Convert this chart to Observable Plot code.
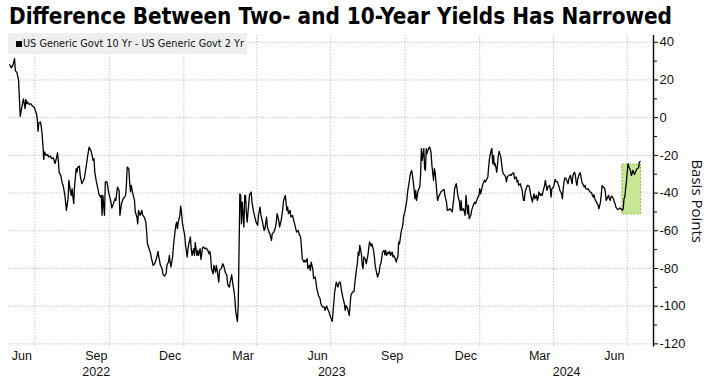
<!DOCTYPE html>
<html>
<head>
<meta charset="utf-8">
<script src="https://cdn.jsdelivr.net/npm/d3@7"></script>
<script src="https://cdn.jsdelivr.net/npm/@observablehq/plot@0.6"></script>
<style>
  html, body { margin: 0; padding: 0; background: #fff; }
  body { width: 708px; height: 379px; overflow: hidden; position: relative; }
  #title { position: absolute; left: 9px; top: 0; height: 33px; line-height: 33px; white-space: nowrap;
           font-family: "DejaVu Sans", sans-serif; font-weight: bold; font-size: 23px; color: #000;
           transform-origin: 0 50%; }
  #chart { position: absolute; left: 0; top: 33px; }
  #legend { position: absolute; left: 8px; top: 33px; width: 239px; height: 21px; background: #efefef; }
  #legend .sw { position: absolute; left: 8px; top: 8px; width: 6px; height: 6px; background: #000; }
  #legend .lt { position: absolute; left: 15px; top: 3px; line-height: 15px; white-space: nowrap;
                font-family: "DejaVu Sans", sans-serif; font-size: 10.5px; color: #111; transform-origin: 0 50%; }
</style>
</head>
<body>
<div id="title"></div>
<div id="chart"></div>
<div id="legend"><div class="sw"></div><div class="lt"></div></div>
<script>
// ---------------- data ----------------
const titleText = "Difference Between Two- and 10-Year Yields Has Narrowed";
const seriesName = "US Generic Govt 10 Yr - US Generic Govt 2 Yr";
const yAxisLabel = "Basis Points";

// reference date for the day offsets below
const seriesStart = "2022-07-01";
// [days since seriesStart, spread in basis points]
const spreadPoints = [
  [-31,28.1],[-29,26.5],[-27,27.7],[-25,31.3],[-24,25],[-22,23.9],[-20,19.8],[-19,10],[-18,0.7],[-16,5.6],
  [-14,10],[-13,7.4],[-12,4.8],[-11,9.7],[-10,7.4],[-9,8.3],[-7,7],[-5,7.4],[-3,6.2],[-1,5.6],
  [0,4.8],[2,2.1],[3,-0.5],[4,-7.2],[5,-2.7],[7,-2.3],[8,-5],[9,-8.5],[10,-14.7],[11,-22.1],
  [12,-18.2],[14,-20],[16,-19.6],[17,-20.9],[19,-20.3],[21,-21.7],[23,-21.4],[25,-24.4],[27,-20.9],[28,-18.6],
  [29,-22.6],[30,-28.9],[32,-30.6],[34,-35],[35,-35.9],[37,-40.9],[38,-44.8],[39,-49.2],[41,-43],[42,-33.3],
  [44,-39.4],[45,-41.2],[46,-37.7],[48,-45.6],[49,-36.8],[51,-27.1],[52,-28.9],[53,-26.2],[55,-25.7],[56,-30.6],
  [58,-35],[60,-33.3],[61,-32.4],[63,-27.1],[65,-20.9],[67,-15.6],[69,-17.3],[70,-18.6],[72,-22.6],[73,-21.7],
  [74,-28.9],[76,-34.1],[78,-38],[79,-40.4],[81,-42.1],[82,-41.2],[83,-51.8],[84,-41.2],[86,-51.8],
  [87,-34.1],[89,-34.1],[91,-39.4],[92,-41.2],[94,-44.8],[95,-47.9],[97,-45.6],[99,-43],[100,-43.9],[102,-36.8],
  [104,-38.6],[105,-51.8],[107,-45.6],[109,-43],[110,-42.5],[112,-41.2],[113,-35.9],[114,-26.2],[116,-27.1],[117,-34.1],
  [118,-39.4],[119,-35.9],[121,-40.4],[123,-43.9],[124,-50],[126,-52.7],[127,-56.3],[128,-49.2],[130,-51.8],[132,-49.2],
  [133,-51.5],[135,-52.7],[137,-55.4],[138,-60.7],[139,-66.9],[141,-69.5],[143,-72.2],[144,-74.8],[146,-78.3],[148,-77.5],
  [149,-76.2],[151,-73.1],[152,-70.9],[153,-73.9],[155,-78.3],[157,-80.1],[158,-82.8],[160,-84],[162,-82.8],[163,-78.3],
  [165,-76.6],[166,-73.1],[167,-76.6],[168,-79.2],[170,-73.9],[171,-68.6],[172,-64.2],[174,-57.1],[175,-55.4],[176,-58.9],
  [177,-55.4],[179,-51.8],[180,-46.9],[181,-50],[182,-55.4],[183,-58],[185,-62.4],[186,-67.7],[188,-73.9],[189,-69.5],
  [190,-66.9],[192,-63.3],[193,-69.5],[194,-73.1],[196,-69.5],[197,-73.1],[198,-66.3],[200,-73.1],[201,-70.4],[202,-73.1],
  [204,-69.5],[205,-75.2],[207,-69],[208,-68.6],[210,-69.5],[211,-69.2],[213,-69.9],[215,-72.2],[216,-70.9],
  [217,-73.9],[218,-80.1],[220,-82.8],[221,-78.3],[223,-81.9],[224,-78.3],[225,-81],[227,-87.2],[228,-81],[230,-80.1],
  [232,-77.5],[233,-78.3],[235,-81.9],[237,-83.7],[238,-88.6],[240,-89.9],[241,-87.2],[243,-83.3],[244,-87.2],[246,-92.5],
  [247,-97],[248,-103.1],[250,-108.1],[251,-99.6],[252,-71.3],[253,-40.4],[254,-41.2],[255,-56.3],[256,-44.8],[258,-58],
  [259,-41.2],[260,-41.2],[261,-50],[262,-55.4],[264,-45.6],[265,-40.9],[267,-39.4],[268,-44.8],[270,-50],[272,-53.6],
  [273,-55.4],[275,-57.1],[276,-51.5],[278,-47.4],[279,-51.8],[281,-55.4],[283,-59.8],[284,-58.9],[286,-52.7],[287,-58],
  [289,-60.7],[290,-61.5],[292,-65.1],[293,-61.5],[295,-60.7],[297,-58],[298,-55.4],[299,-50.9],[301,-54.5],[302,-58],
  [304,-54.5],[306,-48.3],[307,-43.9],[309,-41.2],[310,-44.8],[311,-49.2],[312,-47.4],[313,-50.9],[315,-49.2],[316,-52.7],
  [318,-51.8],[320,-55.4],[321,-57.1],[323,-60.7],[325,-59.8],[326,-61.5],[328,-63.3],[329,-68.6],[330,-74.8],[332,-76.6],
  [333,-75.7],[334,-76.6],[336,-74.8],[337,-80.1],[339,-78.3],[340,-81],[341,-76.6],[343,-80.1],[344,-85.4],[346,-84.5],
  [348,-90.7],[350,-94.3],[352,-96],[353,-98.7],[355,-100.4],[357,-100.4],[358,-102.2],[360,-99.9],[362,-102.2],[363,-103.1],
  [365,-105.8],[367,-108.1],[368,-103.1],[369,-97.8],[370,-92.5],[372,-87.2],[374,-89.9],[375,-88.1],[376,-87.2],[377,-87.2],
  [378,-90.7],[380,-95.2],[382,-98.7],[383,-102.2],[384,-99.6],[386,-101.3],[388,-104.9],[389,-99.6],[390,-94.3],[392,-92.5],
  [394,-92.1],[395,-87.2],[397,-80.1],[398,-77.5],[399,-71.3],[400,-73.1],[401,-67.7],[403,-72.2],[404,-78.3],[405,-80.1],
  [406,-73.9],[408,-75.2],[409,-77.5],[411,-73.1],[412,-69.5],[413,-65.9],[415,-68.1],[416,-66.9],[418,-70.4],[419,-73.9],
  [420,-78.3],[422,-82.8],[423,-84.5],[425,-81.9],[426,-78.3],[427,-77.5],[428,-74.8],[429,-71.3],[431,-70.4],[432,-72.8],
  [433,-70.4],[434,-73.1],[436,-71.3],[437,-72.2],[438,-70.9],[439,-73.1],[441,-71.3],[442,-73.9],[443,-73.1],[444,-73.9],
  [446,-76.6],[447,-74.8],[448,-73.9],[449,-65.9],[450,-66.9],[452,-60.7],[453,-58.9],[454,-57.1],[455,-52.7],[457,-49.2],
  [458,-46.5],[459,-43.9],[460,-39.4],[462,-34.1],[463,-30.6],[464,-28.9],[465,-28],[466,-30.6],[468,-37.7],[469,-43],
  [470,-38.6],[471,-43.9],[472,-41.2],[473,-38.6],[475,-36.8],
  [476,-30.6],[477,-16.4],[478,-22.6],[480,-16.4],[481,-27.1],[482,-28],[483,-16.4],[484,-19.1],[485,-17.3],[487,-15.6],
  [488,-16.4],[489,-19.1],[490,-25.3],[492,-33.2],[493,-27.1],[494,-28.9],[495,-34.1],[496,-39.4],[497,-43.9],[499,-41.2],
  [500,-40.4],[501,-39.4],[503,-38.6],[505,-38],[506,-41.2],[508,-44.8],[509,-49.2],[510,-49.1],[512,-48.3],[514,-49.2],
  [515,-50],[517,-43],[518,-37.7],[520,-35],[521,-37.7],[522,-41.2],[524,-44.8],[525,-49.2],[526,-43.9],[527,-49.2],
  [529,-48.3],[530,-50],[531,-51.8],[532,-41.2],[534,-50.9],[535,-46.5],[536,-53.6],[538,-51.8],[539,-49.2],[541,-46.5],
  [543,-44.8],[544,-45.6],[546,-43],[548,-41.2],[549,-37.7],[550,-40.4],[552,-36.8],[553,-35],[555,-33.2],[556,-34.1],
  [557,-33.2],[559,-31.5],[560,-26.2],[561,-21.7],[563,-17.3],[564,-16.4],[565,-24.4],[566,-20],[567,-25.3],[568,-24.4],
  [570,-28.9],[571,-24.4],[572,-20],[573,-17.9],[575,-20.9],[576,-24.4],[577,-28],[578,-29.7],[580,-30.6],[581,-31.5],
  [582,-34.1],[583,-31.5],[585,-30.6],[586,-30.2],[588,-30.6],[589,-29.7],[591,-29.3],[592,-32.4],[594,-31.5],[595,-34.1],
  [596,-33.2],[597,-35.9],[599,-35],[600,-36.8],[601,-37.7],[603,-43.9],[604,-43.9],[605,-39.4],[607,-36.8],[608,-35.9],
  [610,-36.3],
  [611,-38.6],[612,-41.2],[614,-44.8],[615,-42.1],[616,-40.4],[617,-43],[619,-41.2],[620,-43.9],[621,-42.7],[622,-39.4],
  [624,-41.2],[625,-40.4],[626,-41.2],[627,-39.4],[629,-35.9],[630,-33.2],[631,-35.9],[632,-38.6],[633,-36.8],[635,-35.9],
  [636,-37.7],[637,-42.1],[638,-37.7],[640,-36.8],[641,-35],[642,-32.7],[643,-33.8],[645,-34.1],[646,-35.5],[647,-36.8],
  [648,-38.6],[650,-40.4],[651,-43],[652,-37.7],[653,-34.1],[654,-31.9],[656,-32.7],[657,-34.1],[658,-35],[659,-32.4],
  [661,-30.6],[662,-33.2],[663,-35],[664,-30.6],[666,-28.9],[667,-30.6],[668,-34.1],[669,-35.9],[670,-32.4],[672,-29.7],
  [673,-29.2],[674,-31.5],[675,-34.1],[677,-35.9],[678,-36.8],[679,-35.9],[680,-37.7],[682,-38],[683,-37.7],[684,-38.6],
  [685,-39.4],[687,-39.8],[688,-41.2],[689,-42.1],[690,-40.9],[691,-43],[693,-44.8],[694,-45.6],[695,-46.5],[696,-48.3],
  [698,-44.8],[699,-40.4],[700,-35.9],[701,-36.8],[703,-37.3],[704,-39.4],[705,-43.9],[706,-43],[708,-41.2],[709,-43],
  [710,-43.9],[711,-42.1],[712,-41.6],[714,-43],[715,-44.8],[716,-45.6],[717,-47.4],[719,-48.7],[721,-48.3],[722,-47.9],
  [724,-48.7],[725,-49.2],[726,-48.3],[727,-43],[728,-42.1],[729,-37.7],[730,-34.1],[731,-28.9],[732,-24.4],[733,-26.2],
  [735,-28],[736,-30.6],[737,-29.7],[738,-28],[740,-30.2],[741,-28.9],[742,-28],[743,-27.1],[745,-26.7],[746,-23.5],
  [747,-23.2]
];

const xDomainDates = ["2022-05-29T13:00:00Z", "2024-08-02T10:00:00Z"];
const yDomainValues = [-121.6, 43.6];
const yMajorTicks = [-120, -100, -80, -60, -40, -20, 0, 20, 40];
const yMinorTicks = [-110, -90, -70, -50, -30, -10, 10, 30];
const gridDates = ["2022-07-01","2022-10-01","2023-01-01","2023-04-01","2023-07-01","2023-10-01","2024-01-01","2024-04-01","2024-07-01"];
const monthLabels = ["Jun","Sep","Dec","Mar","Jun","Sep","Dec","Mar","Jun"];
const monthLabelDates = ["2022-06-15","2022-09-15","2022-12-15","2023-03-15","2023-06-15","2023-09-15","2023-12-15","2024-03-15","2024-06-15"];
const yearLabels = [2022, 2023, 2024];
// highlighted box (dates, basis points)
const highlightDates = ["2024-06-25", "2024-07-18"];
const highlightRange = [-51.3, -24.9];

// ---------------- build ----------------
const DAY = 864e5;
const t0 = Date.parse(seriesStart + "T00:00:00Z");
const series = spreadPoints.map(([d, v]) => ({date: new Date(t0 + d * DAY), value: v}));
const xDomain = xDomainDates.map(s => new Date(s));
const toDate = s => new Date(s + "T00:00:00Z");

const yearMid = yearLabels.map(yr => {
  const a = Math.max(+xDomain[0], Date.UTC(yr, 0, 1));
  const b = Math.min(+xDomain[1], Date.UTC(yr + 1, 0, 1));
  return {label: String(yr), date: new Date((a + b) / 2)};
});
const highlight = [{x1: toDate(highlightDates[0]), x2: toDate(highlightDates[1]), y1: highlightRange[0], y2: highlightRange[1]}];

const narrow = "'Liberation Sans Narrow', 'Liberation Sans', Arial, sans-serif";
const grid = "#c9c9c9";

const chart = Plot.plot({
  width: 708,
  height: 346,
  marginLeft: 8,
  marginRight: 55,
  marginTop: 2,
  marginBottom: 32.6,
  style: {background: "transparent", fontFamily: narrow, color: "#111", overflow: "visible"},
  x: {type: "utc", domain: xDomain, axis: null},
  y: {domain: yDomainValues, axis: null},
  marks: [
    Plot.ruleY(yMajorTicks, {stroke: grid, strokeDasharray: "1.5,1.5", strokeWidth: 1}),
    Plot.ruleX(gridDates.map(toDate), {stroke: grid, strokeDasharray: "1.5,1.5", strokeWidth: 1}),
    Plot.rect(highlight, {x1: "x1", x2: "x2", y1: "y1", y2: "y2", fill: "#c8e795", stroke: "#86c23a", strokeWidth: 1, strokeDasharray: "2,1.5"}),
    Plot.line(series, {x: "date", y: "value", stroke: "#000", strokeWidth: 1.3, curve: "linear"}),
    Plot.ruleX([xDomain[1]], {stroke: "#000", strokeWidth: 1.4}),
    Plot.axisY(yMinorTicks, {anchor: "right", tickSize: 3, tickFormat: () => "", label: null, stroke: "#000"}),
    Plot.axisY(yMajorTicks, {anchor: "right", tickSize: 4, tickPadding: 2, tickFormat: d => String(d), label: null,
      fontSize: 13, fill: "#111", stroke: "#000"}),
    Plot.text([yAxisLabel], {frameAnchor: "right", dx: 43, dy: 10, rotate: 90, textAnchor: "middle", lineAnchor: "middle",
      fontSize: 15, fontFamily: "'Open Sans', 'Liberation Sans', Arial, sans-serif", fill: "#111"}),
    Plot.text(monthLabels, {x: (d, i) => toDate(monthLabelDates[i]), frameAnchor: "bottom", dy: 9, lineAnchor: "middle",
      fontSize: 12.5, fill: "#111"}),
    Plot.text(yearMid, {x: "date", text: "label", frameAnchor: "bottom", dy: 25, lineAnchor: "middle",
      fontSize: 12.5, fill: "#111"})
  ]
});
document.getElementById("chart").appendChild(chart);

// title & legend text, fitted to the reference widths
function fit(el, text, target) {
  el.textContent = text;
  const w = el.getBoundingClientRect().width;
  if (w > 0) el.style.transform = `scaleX(${target / w})`;
}
fit(document.getElementById("title"), titleText, 663);
fit(document.querySelector("#legend .lt"), seriesName, 221);
</script>
</body>
</html>
